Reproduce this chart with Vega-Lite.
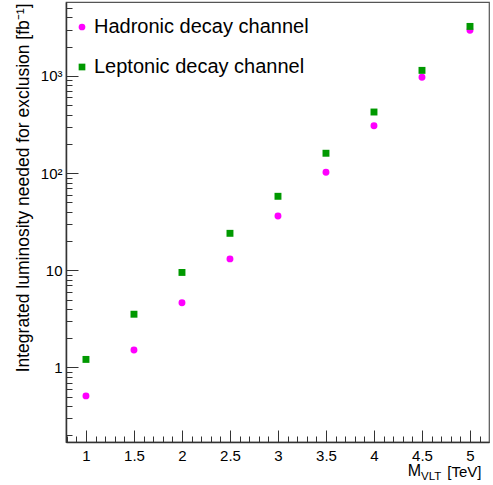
{
  "$schema": "https://vega.github.io/schema/vega-lite/v6.json",
  "width": 423,
  "height": 440,
  "autosize": "none",
  "padding": {"left": 66, "top": 2, "right": 4, "bottom": 43},
  "config": {
    "font": "Liberation Sans",
    "view": {"stroke": "#555555", "strokeWidth": 1.2},
    "axis": {"grid": true, "ticks": false, "gridColor": "#333333", "gridOpacity": 1, "gridWidth": 1, "domainColor": "#333333", "domainWidth": 1.5, "labelColor": "#000000", "titleColor": "#000000", "labelFont": "Liberation Sans", "titleFont": "Liberation Sans", "titleFontWeight": "normal"}
  },
  "layer": [
    {
      "data": {
        "values": [
          {"m": 1.0, "channel": "Hadronic decay channel", "lumi": 0.51},
          {"m": 1.5, "channel": "Hadronic decay channel", "lumi": 1.51},
          {"m": 2.0, "channel": "Hadronic decay channel", "lumi": 4.64},
          {"m": 2.5, "channel": "Hadronic decay channel", "lumi": 13.1},
          {"m": 3.0, "channel": "Hadronic decay channel", "lumi": 36.2},
          {"m": 3.5, "channel": "Hadronic decay channel", "lumi": 102},
          {"m": 4.0, "channel": "Hadronic decay channel", "lumi": 307},
          {"m": 4.5, "channel": "Hadronic decay channel", "lumi": 970},
          {"m": 5.0, "channel": "Hadronic decay channel", "lumi": 2950},
          {"m": 1.0, "channel": "Leptonic decay channel", "lumi": 1.21},
          {"m": 1.5, "channel": "Leptonic decay channel", "lumi": 3.53},
          {"m": 2.0, "channel": "Leptonic decay channel", "lumi": 9.5},
          {"m": 2.5, "channel": "Leptonic decay channel", "lumi": 24.0},
          {"m": 3.0, "channel": "Leptonic decay channel", "lumi": 57.7},
          {"m": 3.5, "channel": "Leptonic decay channel", "lumi": 160},
          {"m": 4.0, "channel": "Leptonic decay channel", "lumi": 425},
          {"m": 4.5, "channel": "Leptonic decay channel", "lumi": 1140},
          {"m": 5.0, "channel": "Leptonic decay channel", "lumi": 3230}
        ]
      },
      "mark": {"type": "point", "filled": true, "size": 48, "opacity": 1},
      "encoding": {
        "x": {
          "field": "m", "type": "quantitative",
          "scale": {"domain": [0.792, 5.198], "nice": false, "zero": false},
          "axis": {
            "values": [0.8, 0.9, 1.0, 1.1, 1.2, 1.3, 1.4, 1.5, 1.6, 1.7, 1.8, 1.9, 2.0, 2.1, 2.2, 2.3, 2.4, 2.5, 2.6, 2.7, 2.8, 2.9, 3.0, 3.1, 3.2, 3.3, 3.4, 3.5, 3.6, 3.7, 3.8, 3.9, 4.0, 4.1, 4.2, 4.3, 4.4, 4.5, 4.6, 4.7, 4.8, 4.9, 5.0, 5.1],
            "labelExpr": "abs(datum.value*2 - round(datum.value*2)) < 0.001 ? format(datum.value, '.2~f') : ''",
            "gridDash": {"condition": {"test": "abs(datum.value*2 - round(datum.value*2)) < 0.001", "value": [0, 428, 12, 0]}, "value": [0, 434, 6, 0]},
            "labelFontSize": 15,
            "labelPadding": 6,
            "labelFlush": false,
            "labelOverlap": false,
            "title": "[TeV]",
            "titleFontSize": 15,
            "titleAnchor": "end",
            "titleAlign": "right",
            "titleBaseline": "alphabetic",
            "titleX": 415,
            "titleY": 34
          }
        },
        "y": {
          "field": "lumi", "type": "quantitative",
          "scale": {"type": "log", "domain": [0.171, 5760], "nice": false},
          "axis": {
            "values": [0.2, 0.3, 0.4, 0.5, 0.6, 0.7, 0.8, 0.9, 1, 2, 3, 4, 5, 6, 7, 8, 9, 10, 20, 30, 40, 50, 60, 70, 80, 90, 100, 200, 300, 400, 500, 600, 700, 800, 900, 1000, 2000, 3000, 4000, 5000],
            "labelExpr": "datum.value == 1 ? '1' : datum.value == 10 ? '10' : datum.value == 100 ? '10²' : datum.value == 1000 ? '10³' : ''",
            "gridDash": {"condition": {"test": "indexof([1, 10, 100, 1000], datum.value) >= 0", "value": [12, 1000]}, "value": [6, 1000]},
            "labelFontSize": 15,
            "labelPadding": 4,
            "labelFlush": false,
            "labelOverlap": false,
            "title": "Integrated luminosity needed for exclusion [fb⁻¹]",
            "titleFontSize": 17.5,
            "titleAngle": -90,
            "titleAlign": "right",
            "titleBaseline": "alphabetic",
            "titleX": -38,
            "titleY": 1
          }
        },
        "color": {
          "field": "channel", "type": "nominal",
          "scale": {"domain": ["Hadronic decay channel", "Leptonic decay channel"], "range": ["#ff00ff", "#009900"]},
          "legend": {
            "orient": "none", "legendX": 6, "legendY": 15,
            "title": null, "labelFontSize": 20, "labelFont": "Liberation Sans", "labelLimit": 400,
            "symbolSize": 45, "labelOffset": 2, "rowPadding": 20, "padding": 0,
            "symbolStrokeWidth": 0
          }
        },
        "shape": {
          "field": "channel", "type": "nominal",
          "scale": {"domain": ["Hadronic decay channel", "Leptonic decay channel"], "range": ["circle", "square"]},
          "legend": null
        }
      }
    },
    {
      "data": {"values": [{"t": "M"}]},
      "mark": {"type": "text", "x": "width", "y": "height", "align": "right", "baseline": "alphabetic", "dx": -68, "dy": 34, "fontSize": 16, "font": "Liberation Sans", "color": "#000000"},
      "encoding": {
        "text": {"field": "t"}
      }
    },
    {
      "data": {"values": [{"t": "VLT"}]},
      "mark": {"type": "text", "x": "width", "y": "height", "align": "left", "baseline": "alphabetic", "dx": -68, "dy": 38, "fontSize": 11.5, "font": "Liberation Sans", "color": "#000000"},
      "encoding": {
        "text": {"field": "t"}
      }
    }
  ]
}
